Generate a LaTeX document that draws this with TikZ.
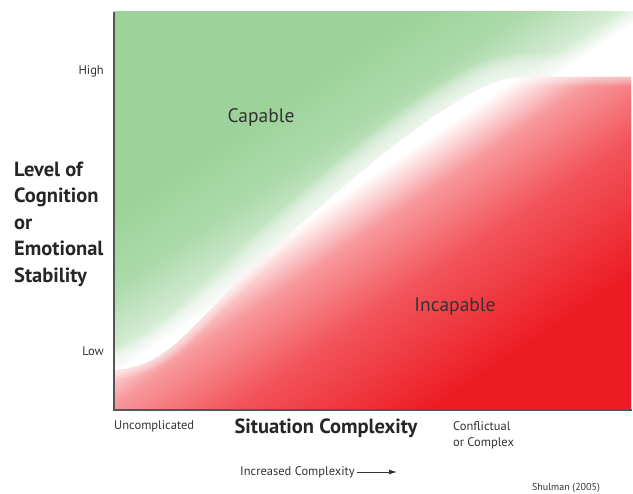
\documentclass[tikz,border=0pt]{standalone}
\usepackage{fontspec}
\setmainfont{PT Sans}
\usetikzlibrary{arrows.meta}
\definecolor{capgreen}{RGB}{157,211,155}
\definecolor{incred}{RGB}{237,28,36}
\definecolor{axisgray}{RGB}{85,85,85}
\colorlet{capfaint}{capgreen!45!white}
\colorlet{capmid}{capgreen!85!white}
\colorlet{incfaint}{incred!20!white}
\colorlet{incpale}{incred!45!white}
\colorlet{incmid}{incred!75!white}
\pgfdeclareverticalshading{capshade}{100bp}{color(0bp)=(white); color(50.7bp)=(white); color(52.2bp)=(capfaint); color(55.9bp)=(capmid); color(60.3bp)=(capgreen); color(100bp)=(capgreen)}
\pgfdeclareverticalshading{incshade}{100bp}{color(0bp)=(incred); color(35.5bp)=(incred); color(43.8bp)=(incmid); color(48.9bp)=(incpale); color(50.7bp)=(incfaint); color(52.2bp)=(white); color(100bp)=(white)}

\begin{document}
\begin{tikzpicture}[
    x=1pt, y=-1pt,
    ticklabel/.style={font=\fontsize{12.5}{16}\selectfont, text=black!80, inner sep=0pt},
    axistitle/.style={font=\fontsize{20.5}{26.5}\selectfont\bfseries, text=black!85, inner sep=0pt},
    regionlabel/.style={font=\fontsize{19.5}{23}\selectfont, text=black!80, inner sep=0pt},
    glow/.style={white, line cap=butt},
    shadeturn/.style={transform canvas={rotate around={34:(372,211)}}}
    ]
  \useasboundingbox (0,0) rectangle (633,494);
  \def\capcurve{(114,370) .. controls (150,368) and (170,352) .. (205,315) .. controls (260,258) and (390,140) .. (460,100) .. controls (490,82) and (505,77) .. (530,77) -- (631,77)}

  % capable part
  \begin{scope}
    \clip (114,12) rectangle (633,410);
    \shade[shading=capshade, shadeturn] (-28,-129) rectangle (772,551);
    \foreach \w in {4,8,...,48}
      \draw[glow, line width=\w pt, opacity=0.1] \capcurve;
  \end{scope}

  % incapable part
  \begin{scope}
    \clip \capcurve -- (631,410) -- (114,410) -- cycle;
    \shade[shading=incshade, shadeturn] (-28,-129) rectangle (772,551);
    \foreach \w in {3,6,...,18}
      \draw[glow, line width=\w pt, opacity=0.1] \capcurve;
  \end{scope}

  % axes
  \draw[axisgray, line width=1.2pt] (114,12) -- (114,410) -- (632,410);

  \node[ticklabel, anchor=east] (high) at (104,71) {High};
  \node[ticklabel, anchor=east] (low) at (104,351) {Low};
  \node[axistitle, anchor=west, align=left] (ytitle) at (14,224) {Level of\\Cognition\\or\\Emotional\\Stability};

  \node[regionlabel] (capable) at (261,118) {Capable};
  \node[regionlabel] (incapable) at (455,307) {Incapable};

  \node[ticklabel, anchor=west] (uncomp) at (114,426) {Uncomplicated};
  \node[axistitle] (xtitle) at (326,428) {Situation Complexity};
  \node[ticklabel, anchor=west, align=left] (confl) at (453,435) {Conflictual\\or Complex};

  \node[ticklabel, anchor=west] (incr) at (240,472) {Increased Complexity};
  \coordinate (arrowend) at (397,472);
  \draw[-{Latex[length=8pt,width=5pt]}, line width=0.9pt, black!80, shorten <=2pt] (incr.east) -- (arrowend);

  \node[ticklabel, font=\fontsize{10}{12}\selectfont] (source) at (566,488) {Shulman (2005)};
\end{tikzpicture}
\end{document}
